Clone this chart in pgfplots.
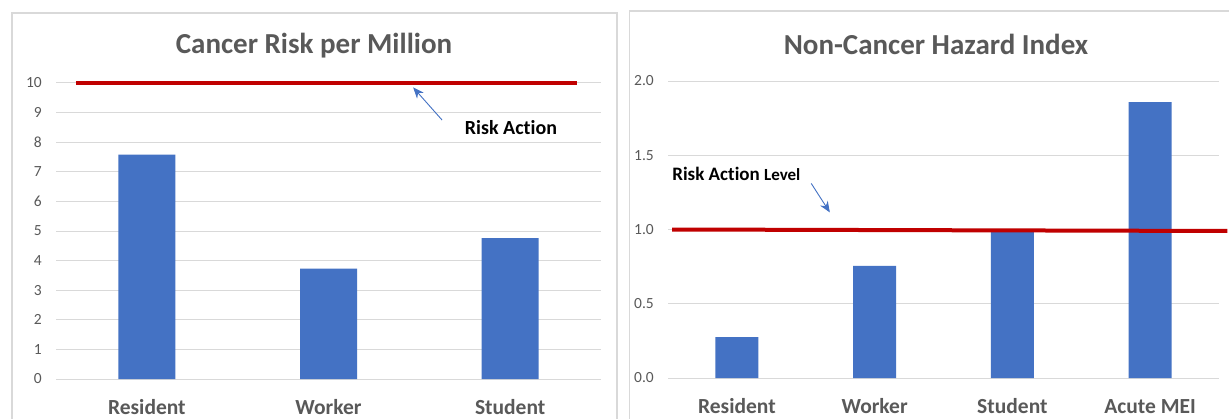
\documentclass[border=0pt]{standalone}
\usepackage{fontspec}
\setmainfont{Carlito}[Ligatures=NoCommon]
\usepackage{pgfplots}
\pgfplotsset{compat=1.18}
\usetikzlibrary{arrows.meta}
\definecolor{barblue}{HTML}{4472C4}
\definecolor{redline}{HTML}{C00000}
\definecolor{gridgray}{HTML}{D9D9D9}
\definecolor{txtgray}{HTML}{595959}
\pgfplotsset{mystyle/.style={
  scale only axis, anchor=south west, clip=false,
  axis line style={draw=none},
  major tick length=0pt,
  ymajorgrids, grid style={gridgray, line width=1pt},
  /pgf/number format/assume math mode=true,
  xticklabel style={font=\fontsize{21.5}{25}\selectfont\bfseries, text=txtgray, anchor=base, yshift=-35pt},
  yticklabel style={font=\fontsize{15.5}{18}\selectfont, text=txtgray, anchor=east, inner sep=0pt, xshift=-14pt},
}}
\begin{document}
\begin{tikzpicture}
\useasboundingbox (0,0) rectangle (1229pt,418pt);
\fill[white] (0,0) rectangle (1229pt,418pt);
% frames
\draw[gridgray, line width=1.5pt] (12pt,-5pt) -- (12pt,405pt) -- (617pt,405pt) -- (617pt,-5pt);
\draw[gridgray, line width=1.5pt] (629.5pt,-5pt) -- (629.5pt,407pt) -- (1240pt,407pt);
% left chart
\begin{axis}[mystyle, at={(56pt,39pt)}, width=545pt, height=296pt,
  xmin=-0.5, xmax=2.5, ymin=0, ymax=10, ytick={0,1,...,10},
  xtick={0,1,2}, xticklabels={Resident,Worker,Student}]
\addplot[ybar, bar width=57pt, fill=barblue, draw=none] coordinates {(0,7.58) (1,3.73) (2,4.76)};
\addplot[redline, line width=4pt, no markers] coordinates {(-0.39,10) (2.37,10)};
\node[anchor=west, inner sep=0pt, font=\fontsize{20}{24}\selectfont\bfseries] at (axis cs:1.75,8.5) {Risk Action};
\draw[-{Stealth[length=11pt,width=9pt]}, barblue, line width=0.9pt] (axis cs:1.625,8.75) -- (axis cs:1.466,9.85);
\end{axis}
\node[font=\fontsize{29}{34}\selectfont\bfseries, text=txtgray] at (314pt,372pt) {Cancer Risk per Million};
% right chart
\begin{axis}[mystyle, at={(668pt,40pt)}, width=551pt, height=297pt,
  xmin=-0.5, xmax=3.5, ymin=0, ymax=2, ytick={0,0.5,...,2},
  yticklabel style={/pgf/number format/.cd, fixed, fixed zerofill, precision=1},
  xtick={0,1,2,3}, xticklabels={Resident,Worker,Student,Acute MEI}]
\addplot[ybar, bar width=43pt, fill=barblue, draw=none] coordinates {(0,0.275) (1,0.755) (2,0.985) (3,1.857)};
\addplot[redline, line width=4pt, no markers] coordinates {(-0.47,1.0) (3.56,0.99)};
\node[anchor=west, inner sep=0pt] at (axis cs:-0.47,1.374) {\fontsize{19}{22}\selectfont\bfseries Risk Action \fontsize{17}{20}\selectfont Level};
\draw[-{Stealth[length=11pt,width=9pt]}, barblue, line width=0.9pt] (axis cs:0.54,1.31) -- (axis cs:0.675,1.115);
\end{axis}
\node[font=\fontsize{29}{34}\selectfont\bfseries, text=txtgray] at (936pt,374pt) {Non-Cancer Hazard Index};
\end{tikzpicture}
\end{document}
